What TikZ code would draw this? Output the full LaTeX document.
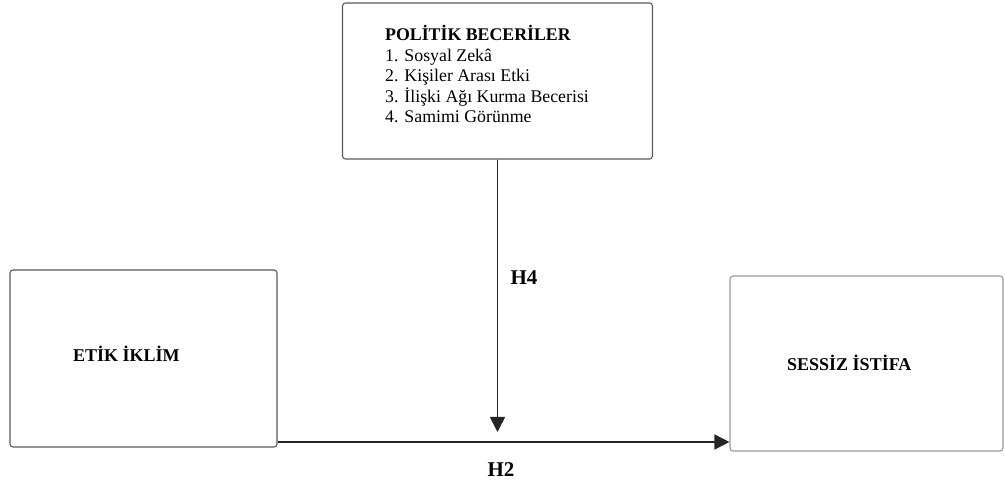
\documentclass[tikz,border=0pt]{standalone}
\usepackage{fontspec}
\setmainfont{Liberation Serif}
\usetikzlibrary{arrows.meta}

\tikzset{
  box/.style={draw=black!65, line width=1.1pt, rounded corners=3pt},
  arr/.style={-{Triangle[length=15pt,width=15pt]}, line width=1.6pt, black!85},
  lbl/.style={inner sep=0pt, font=\fontsize{18}{20}\selectfont\bfseries},
  hlbl/.style={inner sep=0pt, font=\fontsize{21}{24}\selectfont\bfseries}
}

\begin{document}
\begin{tikzpicture}[x=1pt, y=-1pt]
\useasboundingbox (0,0) rectangle (1005,486);
% kutular
\node [box, minimum width=310pt, minimum height=156pt] (politik) at (497.5,81) {};
\node [box, minimum width=267pt, minimum height=177pt] (etik) at (143.5,358.5) {};
\node [box, draw=black!40, minimum width=273pt, minimum height=175pt] (sessiz) at (866.5,363.5) {};
% metinler
\node [anchor=north west, align=left, inner sep=0pt, font=\fontsize{17.8}{20.6}\selectfont] (beceri) at (385,25)
  {\textbf{POLİTİK BECERİLER}\\1. Sosyal Zekâ\\2. Kişiler Arası Etki\\3. İlişki Ağı Kurma Becerisi\\4. Samimi Görünme};
\node [lbl, anchor=west] (etiktxt) at (73,354) {ETİK İKLİM};
\node [lbl, anchor=west] (sessiztxt) at (787,363) {SESSİZ İSTİFA};
% oklar
\coordinate (h2y) at (0,442);
\coordinate (hitpt) at (497.5,432);
\draw [arr] (etik.east |- h2y) -- (sessiz.west |- h2y);
\draw [arr] (politik.south) -- (hitpt);
\node [hlbl] (hfour) at (524,278) {H4};
\node [hlbl] (htwo) at (501,470) {H2};
\end{tikzpicture}
\end{document}
